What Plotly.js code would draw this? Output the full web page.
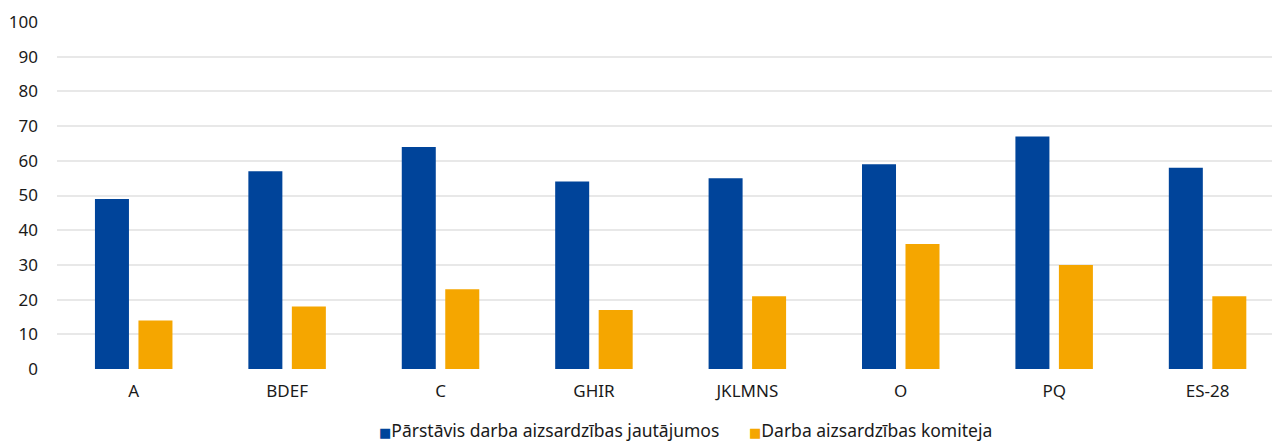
<!DOCTYPE html>
<html>
<head>
<meta charset="utf-8">
<script src="https://cdn.plot.ly/plotly-3.0.1.min.js"></script>
<style>
  html, body { margin: 0; padding: 0; background: #fff; overflow: hidden; }
  #chart { width: 1272px; height: 443px; }
</style>
</head>
<body>
<div id="chart"></div>
<script>
// Sector groups
const categories = ['A', 'BDEF', 'C', 'GHIR', 'JKLMNS', 'O', 'PQ', 'ES-28'];
// Share (%) of establishments with a health and safety representative
const representativeValues = [49, 57, 64, 54, 55, 59, 67, 58];
// Share (%) of establishments with a health and safety committee
const committeeValues = [14, 18, 23, 17, 21, 36, 30, 21];

const seriesNames = ['Pārstāvis darba aizsardzības jautājumos', 'Darba aizsardzības komiteja'];
const seriesColors = ['#00449a', '#f5a600'];
const yTicks = [0, 10, 20, 30, 40, 50, 60, 70, 80, 90, 100];

const font = { family: 'Noto Sans, Open Sans, sans-serif', size: 17, color: '#1a1a1a' };

const traces = [
  {
    type: 'bar', name: seriesNames[0], x: categories, y: representativeValues,
    marker: { color: seriesColors[0] }, hoverinfo: 'x+y'
  },
  {
    type: 'bar', name: seriesNames[1], x: categories, y: committeeValues,
    marker: { color: seriesColors[1] }, hoverinfo: 'x+y'
  }
];

// Compact legend: a small coloured square followed directly by the series name
const legendX = [0.2634, 0.5679];
const annotations = seriesNames.map((name, i) => ({
  xref: 'paper', yref: 'paper',
  x: legendX[i], y: -0.176,
  xanchor: 'left', yanchor: 'middle',
  showarrow: false,
  align: 'left',
  font: { family: font.family, size: 17.5, color: '#1a1a1a' },
  text: '<span style="color:' + seriesColors[i] + ';font-family:DejaVu Sans;font-size:13px">■</span>' + name
}));

const layout = {
  width: 1272, height: 443,
  margin: { l: 57, r: 0, t: 22, b: 74, pad: 0, autoexpand: false },
  paper_bgcolor: '#ffffff', plot_bgcolor: '#ffffff',
  font: font,
  barmode: 'group',
  bargap: 0.433,
  bargroupgap: 0.218,
  xaxis: {
    type: 'category',
    range: [-0.5, 7.42],
    showgrid: false, zeroline: false, showline: false,
    ticks: '', ticklabelstandoff: 10, tickfont: font
  },
  yaxis: {
    range: [0, 100],
    tickvals: yTicks,
    showgrid: true, gridcolor: '#e8e8e8', gridwidth: 2,
    zeroline: false, showline: false,
    ticks: '', ticklabelstandoff: 18, tickfont: font
  },
  showlegend: false,
  annotations: annotations
};

Plotly.newPlot('chart', traces, layout, { staticPlot: true, displayModeBar: false });
</script>
</body>
</html>
